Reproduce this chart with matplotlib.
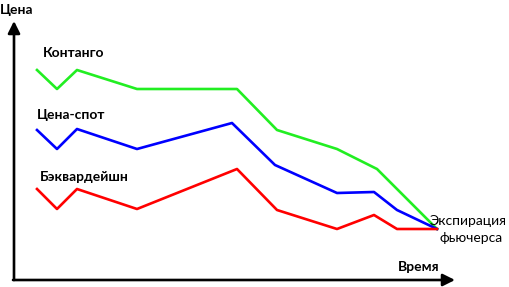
import matplotlib
matplotlib.use("Agg")
import matplotlib.pyplot as plt

plt.rcParams['font.family'] = ['Lato', 'DejaVu Sans']

# Кривые (время, цена); цена растёт вверх
contango_t = [37, 57, 77, 137, 237, 277, 337, 377, 437]
contango_p = [217, 198, 217, 198, 198, 157, 138, 118, 58]

spot_t = [37, 57, 77, 137, 232, 275, 337, 374, 397, 437]
spot_p = [157, 138, 158, 138, 164, 122, 94, 95, 77, 58]

backw_t = [37, 57, 77, 137, 237, 277, 337, 374, 397, 437]
backw_p = [98, 78, 98, 78, 118, 77, 58, 72, 58, 58]

fig = plt.figure(figsize=(5.09, 2.87), dpi=100)
ax = fig.add_axes([0, 0, 1, 1])
ax.set_xlim(0, 509)
ax.set_ylim(0, 287)
ax.axis('off')

ax.plot(contango_t, contango_p, color='#22ee22', lw=1.9)
ax.plot(spot_t, spot_p, color='#0000ff', lw=1.9)
ax.plot(backw_t, backw_p, color='#ff0000', lw=1.9)

# оси со стрелками
arr = dict(arrowstyle='-|>', color='black', lw=1.9, mutation_scale=18,
           shrinkA=0, shrinkB=0)
ax.annotate('', xy=(14, 266), xytext=(14, 7), arrowprops=arr)
ax.annotate('', xy=(455, 7), xytext=(13, 7), arrowprops=arr)

ax.text(0, 277, 'Цена', fontsize=10, fontweight='bold', va='center', ha='left')
ax.text(43, 234, 'Контанго', fontsize=10, fontweight='bold', va='center', ha='left')
ax.text(37, 172, 'Цена-спот', fontsize=10, fontweight='bold', va='center', ha='left')
ax.text(40, 110, 'Бэквардейшн', fontsize=10, fontweight='bold', va='center', ha='left')
ax.text(507, 66, 'Экспирация', fontsize=10, va='center', ha='right')
ax.text(471, 49, 'фьючерса', fontsize=10, va='center', ha='center')
ax.text(398, 20, 'Время', fontsize=10, fontweight='bold', va='center', ha='left')

fig.savefig('out.png', dpi=100)
